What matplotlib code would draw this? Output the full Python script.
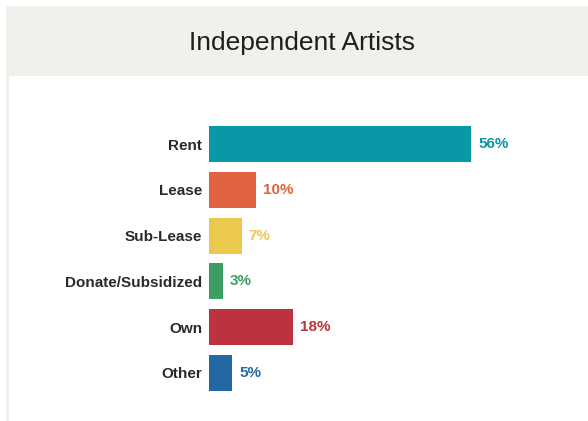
import matplotlib
matplotlib.use("Agg")
import matplotlib.pyplot as plt
from matplotlib.patches import Rectangle

categories = ["Rent", "Lease", "Sub-Lease", "Donate/Subsidized", "Own", "Other"]
values = [56, 10, 7, 3, 18, 5]
colors = ["#0a97a6", "#e0623f", "#ebc94e", "#3c9e62", "#bd323f", "#2467a5"]
title = "Independent Artists"

W, H = 588, 421
fig = plt.figure(figsize=(W / 100, H / 100), dpi=100)
fig.patch.set_facecolor("white")
plt.rcParams["font.family"] = ["Liberation Sans", "DejaVu Sans"]

panel = "#f1f0ed"
# header band and left edge strip (pixel coordinates, y from top)
fig.patches.append(Rectangle((6 / W, 1 - 76 / H), (W - 6) / W, 70 / H,
                             transform=fig.transFigure, facecolor=panel,
                             edgecolor="none", zorder=0))
fig.patches.append(Rectangle((6 / W, 0), 3.5 / W, 1 - 76 / H,
                             transform=fig.transFigure, facecolor=panel,
                             edgecolor="none", zorder=0))
fig.text(302 / W, 1 - 43 / H, title, ha="center", va="center",
         fontsize=19, color="#1e1e1e")

# plotting area: x scale 4.68 px per percent starting at x=209
px_per = 4.68
xmax = 75
row = 45.8
top = 144 - row / 2
ax = fig.add_axes([209 / W, 1 - (top + 6 * row) / H, xmax * px_per / W, 6 * row / H])
ax.set_xlim(0, xmax)
ax.set_ylim(5.5, -0.5)
ypos = list(range(len(categories)))
ax.barh(ypos, values, height=0.79, color=colors, edgecolor="none")
ax.set_yticks(ypos)
ax.set_yticklabels(categories, fontsize=11, fontweight="bold", color="#2a2a2a")
ax.tick_params(axis="y", length=0, pad=5)
ax.set_xticks([])
for s in ax.spines.values():
    s.set_visible(False)
ax.patch.set_alpha(0)

for y, v, c in zip(ypos, values, colors):
    ax.annotate(f"{v}%", (v, y), xytext=(5, 0), textcoords="offset points",
                ha="left", va="center", fontsize=11, fontweight="bold", color=c)

fig.savefig("out.png", dpi=100)
